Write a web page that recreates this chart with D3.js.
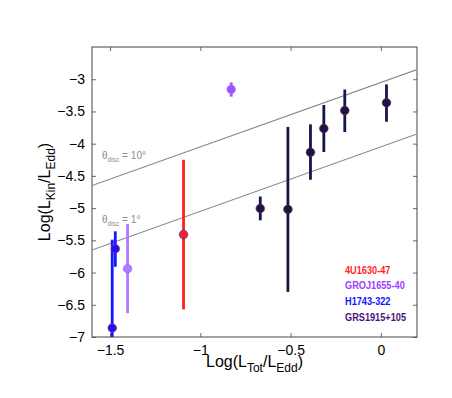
<!DOCTYPE html>
<html>
<head>
<meta charset="utf-8">
<script src="https://cdn.jsdelivr.net/npm/d3@7"></script>
<style>
  body { margin: 0; background: #fff; }
  svg { display: block; font-family: "Liberation Sans", Arial, sans-serif; }
  .tick-label { font-size: 14px; fill: #000; }
  .leg { font-weight: bold; font-size: 10px; }
</style>
</head>
<body>
<svg id="chart"></svg>
<script>
// Kinetic vs total luminosity, four sources

const SOURCES = ['4U1630-47', 'GROJ1655-40', 'H1743-322', 'GRS1915+105'];
const SOURCE_COLORS = ['#ff1f1f', '#a23cff', '#1414ff', '#4a1278'];

// each point: log Ltot, log Lkin, lower err end, upper err end
const logTot = [-1.093, -0.829, -1.403, -1.488, -1.471, -0.668, -0.515, -0.39, -0.316, -0.2, 0.031];
const logKin = [-5.41, -3.157, -5.94, -6.86, -5.63, -5.006, -5.02, -4.134, -3.765, -3.485, -3.365];
const errLo = [-6.57, -3.27, -6.63, -7.4, -5.91, -5.19, -6.30, -4.56, -4.13, -3.82, -3.66];
const errHi = [-4.25, -3.05, -5.245, -5.49, -5.36, -4.82, -3.74, -3.70, -3.40, -3.16, -3.08];
const pointColors = ['#ff2020', '#9a55ff', '#b07aff', '#1515ff', '#1515ff', '#16164a', '#16164a', '#16164a', '#16164a', '#16164a', '#16164a'];
const edgeColors = ['#3030d0', '#b080ff', '#9a70ff', '#cc2040', '#cc2040', '#8a2030', '#8a2030', '#8a2030', '#8a2030', '#8a2030', '#8a2030'];

// reference lines: log Lkin = log Ltot + offset
const lineOffsets = [-3.05, -4.05];
const lineLabels = ['10°', '1°'];
const labelAt = -1.545;   // log Ltot where the line labels start
const labelLift = 0.36;   // labels sit this far (in log Lkin) above their line

const xTicks = [-1.5, -1, -0.5, 0];
const yTicks = [-7, -6.5, -6, -5.5, -5, -4.5, -4, -3.5, -3];

const W = 452, H = 398;
const margin = { top: 47, right: 35, bottom: 61, left: 92 };

const svg = d3.select('#chart').attr('width', W).attr('height', H);

const x = d3.scaleLinear().domain([-1.6, 0.2]).range([margin.left, W - margin.right]);
const y = d3.scaleLinear().domain([-7, -2.5]).range([H - margin.bottom, margin.top]);

const fmt = v => (v < 0 ? '\u2212' : '') + Math.abs(v);

svg.append('defs').append('clipPath').attr('id', 'plot-clip')
  .append('rect')
  .attr('x', x(-1.6)).attr('y', y(-2.5))
  .attr('width', x(0.2) - x(-1.6)).attr('height', y(-7) - y(-2.5));

// axes box with inward ticks on all four sides
const axisStyle = g => {
  g.select('.domain').remove();
  g.selectAll('.tick line').attr('stroke', '#444').attr('stroke-width', 0.8);
  g.selectAll('.tick text').attr('class', 'tick-label').attr('font-size', null).attr('font-family', null);
};

svg.append('g').attr('transform', `translate(0,${y(-7)})`)
  .call(d3.axisBottom(x).tickValues(xTicks).tickFormat(fmt).tickSizeInner(-4).tickSizeOuter(0).tickPadding(8))
  .call(axisStyle);
svg.append('g').attr('transform', `translate(0,${y(-2.5)})`)
  .call(d3.axisTop(x).tickValues(xTicks).tickFormat('').tickSizeInner(-4).tickSizeOuter(0))
  .call(axisStyle);
svg.append('g').attr('transform', `translate(${x(-1.6)},0)`)
  .call(d3.axisLeft(y).tickValues(yTicks).tickFormat(fmt).tickSizeInner(-4).tickSizeOuter(0).tickPadding(7))
  .call(axisStyle);
svg.append('g').attr('transform', `translate(${x(0.2)},0)`)
  .call(d3.axisRight(y).tickValues(yTicks).tickFormat('').tickSizeInner(-4).tickSizeOuter(0))
  .call(axisStyle);

svg.append('rect')
  .attr('x', x(-1.6)).attr('y', y(-2.5))
  .attr('width', x(0.2) - x(-1.6)).attr('height', y(-7) - y(-2.5))
  .attr('fill', 'none').attr('stroke', '#444').attr('stroke-width', 1);

// reference lines
const plot = svg.append('g').attr('clip-path', 'url(#plot-clip)');
plot.selectAll('line.ref')
  .data(lineOffsets)
  .join('line')
  .attr('class', 'ref')
  .attr('x1', x(-1.6)).attr('x2', x(0.2))
  .attr('y1', d => y(-1.6 + d)).attr('y2', d => y(0.2 + d))
  .attr('stroke', '#888').attr('stroke-width', 1.1);

const refText = svg.selectAll('text.reflab')
  .data(lineOffsets)
  .join('text')
  .attr('class', 'reflab')
  .attr('transform', d => `translate(${x(labelAt)},${y(labelAt + d + labelLift)}) scale(0.88,1)`)
  .attr('fill', '#8c8c8c')
  .attr('font-size', 11.5);
refText.append('tspan').text('\u03b8');
refText.append('tspan').attr('font-size', 7.5).attr('dy', 3).text('disc');
refText.append('tspan').attr('dy', -3).text((d, i) => ' = ' + lineLabels[i]);

// error bars + markers
const idx = d3.range(logTot.length);
plot.selectAll('line.err')
  .data(idx)
  .join('line')
  .attr('class', 'err')
  .attr('x1', i => x(logTot[i])).attr('x2', i => x(logTot[i]))
  .attr('y1', i => y(errLo[i])).attr('y2', i => y(errHi[i]))
  .attr('stroke', i => pointColors[i])
  .attr('stroke-width', 2.8);

plot.selectAll('circle.pt')
  .data(idx)
  .join('circle')
  .attr('class', 'pt')
  .attr('cx', i => x(logTot[i])).attr('cy', i => y(logKin[i]))
  .attr('r', 4.3)
  .attr('fill', i => pointColors[i])
  .attr('stroke', i => edgeColors[i])
  .attr('stroke-width', 0.7);

// legend
svg.selectAll('text.leg')
  .data(SOURCES)
  .join('text')
  .attr('class', 'leg')
  .attr('transform', (d, i) => `translate(345,${273.5 + i * 15.8}) scale(0.92,1)`)
  .attr('fill', (d, i) => SOURCE_COLORS[i])
  .text(d => d);

// axis titles
const xt = svg.append('text')
  .attr('x', (x(-1.6) + x(0.2)) / 2).attr('y', 367)
  .attr('text-anchor', 'middle').attr('font-size', 16);
xt.append('tspan').text('Log(L');
xt.append('tspan').attr('font-size', 12).attr('dy', 5).text('Tot');
xt.append('tspan').attr('dy', -5).text('/L');
xt.append('tspan').attr('font-size', 12).attr('dy', 5).text('Edd');
xt.append('tspan').attr('dy', -5).text(')');

const yt = svg.append('text')
  .attr('transform', `translate(50,${(y(-7) + y(-2.5)) / 2}) rotate(-90)`)
  .attr('text-anchor', 'middle').attr('font-size', 16);
yt.append('tspan').text('Log(L');
yt.append('tspan').attr('font-size', 12).attr('dy', 5).text('Kin');
yt.append('tspan').attr('dy', -5).text('/L');
yt.append('tspan').attr('font-size', 12).attr('dy', 5).text('Edd');
yt.append('tspan').attr('dy', -5).text(')');
</script>
</body>
</html>
